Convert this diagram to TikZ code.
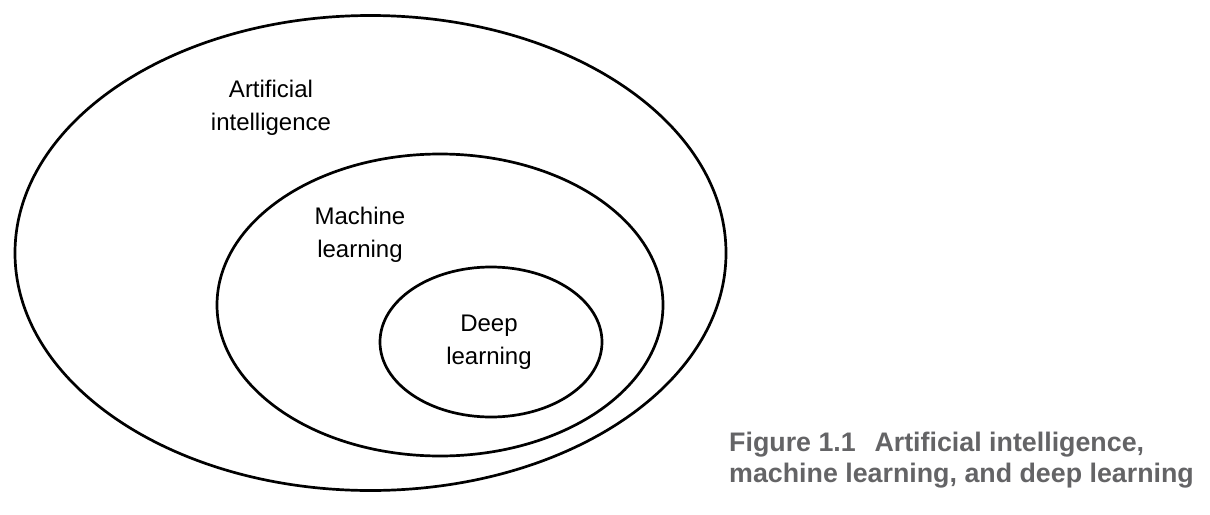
\documentclass[tikz,border=0pt]{standalone}
\usepackage{fontspec}
\setmainfont{Liberation Sans}
\usepackage{tikz}
\usetikzlibrary{shapes.geometric}

\definecolor{capgray}{RGB}{100,100,102}

\begin{document}
\begin{tikzpicture}[x=1pt, y=-1pt,
      area/.style={ellipse, draw, line width=2.7pt, inner sep=0pt},
      label/.style={align=center, font=\fontsize{24}{33}\selectfont},
      caption/.style={align=left, text=capgray, inner sep=0pt,
        font=\fontsize{26.8}{31}\selectfont\bfseries}]

      \useasboundingbox (0,0) rectangle (1210,514);

      % nested sets
      \node[area, minimum width=711pt, minimum height=475pt] (ai) at (370.5,253) {};
      \node[area, minimum width=446pt, minimum height=302pt] (ml) at (440,305) {};
      \node[area, minimum width=222pt, minimum height=150pt] (dl) at (491,342) {};

      \node[label] (ailabel) at (271,108) {Artificial\\intelligence};
      \node[label] (mllabel) at (360,235) {Machine\\learning};
      \node[label] (dllabel) at (489,342) {Deep\\learning};

      % caption
      \node[caption, anchor=base west] (cap) at (729,482)
        {Figure 1.1\hspace{0.7em}Artificial intelligence,\\machine learning, and deep learning};
    \end{tikzpicture}
\end{document}
